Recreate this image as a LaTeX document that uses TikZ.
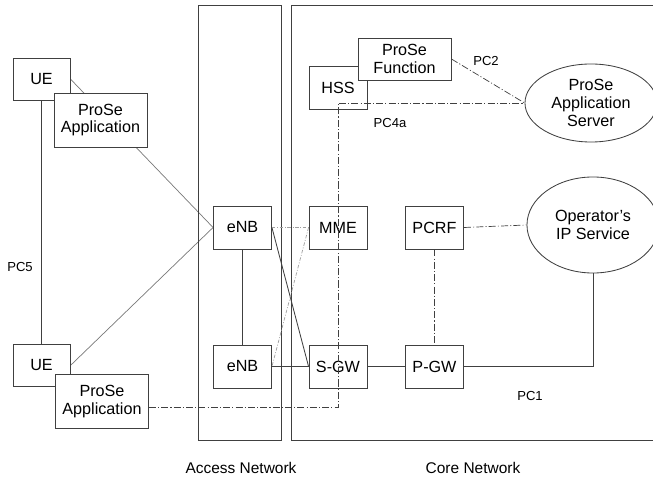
\documentclass[tikz,border=0pt]{standalone}
\usepackage{fontspec}
\setmainfont{Liberation Sans}
\usetikzlibrary{shapes.geometric, backgrounds, calc}
\definecolor{edge}{RGB}{64,64,64}
\definecolor{wire}{RGB}{120,120,120}

\begin{document}
\begin{tikzpicture}[
    x=0.025cm, y=-0.025cm,
    box/.style={draw=edge, line width=0.6pt, fill=white, inner sep=0pt,
                minimum width=1.45cm, minimum height=1.075cm,
                align=center, font=\fontsize{11.5}{12.5}\selectfont},
    app/.style={box, minimum width=2.325cm, minimum height=1.35cm},
    srv/.style={ellipse, draw=edge, line width=0.6pt, fill=white,
                inner sep=0pt, minimum width=3.3cm,
                align=center, font=\fontsize{11.5}{12.5}\selectfont},
    net/.style={draw=edge, line width=0.6pt, inner sep=0pt},
    ln/.style={edge, line width=0.6pt},
    ue/.style={wire, line width=0.5pt},
    dd/.style={edge, line width=0.5pt,
               dash pattern=on 5pt off 1.5pt on 0.8pt off 1.5pt},
    sig/.style={gray!75, line width=0.5pt,
                dash pattern=on 2.5pt off 1.2pt on 0.6pt off 1.2pt},
    lb/.style={font=\fontsize{9.3}{11}\selectfont, inner sep=1pt},
    nw/.style={font=\fontsize{11}{13}\selectfont}
  ]
    \useasboundingbox (0,0) rectangle (653,478);

    %% Networks ──────────────────────────────
    \node[net, minimum width=2.075cm, minimum height=10.875cm] (AN) at (239.5,222.5) {};
    \node[net, minimum width=9.35cm,  minimum height=10.875cm] (CN) at (478,222.5) {};
    \node[nw] (ANl) at (241,468) {Access Network};
    \node[nw] (CNl) at (473,468) {Core Network};

    %% UEs ───────────────────────────────────
    \node[box, minimum width=1.425cm, minimum height=1.05cm] (UE1) at (41.5,79) {UE};
    \node[app] (App1) at (100.5,120) {ProSe\\Application};
    \node[box, minimum width=1.425cm, minimum height=1.05cm] (UE2) at (41.5,365.5) {UE};
    \node[app] (App2) at (102,401.5) {ProSe\\Application};

    %% Access ────────────────────────────────
    \node[box] (eNB1) at (242.5,227.5) {eNB};
    \node[box] (eNB2) at (242.5,366.5) {eNB};

    %% Core ──────────────────────────────────
    \node[box] (MME)  at (338,227.5)   {MME};
    \node[box] (SGW)  at (338,366.5)   {S-GW};
    \node[box] (PCRF) at (434.5,227.5) {PCRF};
    \node[box] (PGW)  at (434.5,366.5) {P-GW};
    \node[box] (HSS)  at (338,88)      {HSS};
    \node[box, minimum width=2.325cm, minimum height=1.05cm] (PF) at (404.5,59)
          {ProSe\\Function};
    \node[srv, minimum height=1.95cm] (AS) at (591,103) {ProSe\\Application\\Server};
    \node[srv, minimum height=2.4cm]  (OP) at (593,225) {Operator’s\\IP Service};

    %% UE side links ─────────────────────────
    \begin{scope}[on background layer]
      \draw[ue] (UE1.east) -- (eNB1.west);
      \draw[ue] (UE2.east) -- (eNB1.west);
    \end{scope}
    \draw[ln] (UE1.south) -- (UE2.north);
    \node[lb] (PC5) at (20,267) {PC5};

    %% Bearer path ───────────────────────────
    \draw[ln] (eNB1.south) -- (eNB2.north);
    \draw[ln] (eNB1.east) -- (SGW.west);
    \draw[ln] (eNB2.east) -- (SGW.west);
    \draw[ln] (SGW.east) -- (PGW.west);
    \draw[ln] (PGW.east) -| (OP.south);
    \node[lb] (PC1) at (530,396) {PC1};

    %% Signalling ────────────────────────────
    \draw[sig] (eNB1.east) -- (MME.west);
    \draw[sig] (MME.west) -- (eNB2.east);
    \draw[dd] (PCRF.east) -- (OP.west);
    \draw[dd] (PCRF.south) -- (PGW.north);
    \draw[dd] (PF.east) -- (AS.west);
    \node[lb] (PC2) at (486,61) {PC2};
    \draw[dd] ([yshift=-4.5pt]App2.east) -| (MME |- AS.west) -- (AS.west);
    \node[lb] (PC4a) at (390,123) {PC4a};

  \end{tikzpicture}
\end{document}
